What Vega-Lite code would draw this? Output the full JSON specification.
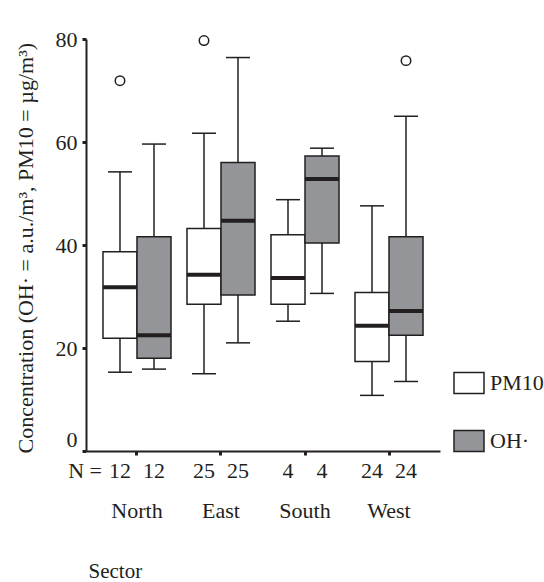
{
  "$schema": "https://vega.github.io/schema/vega-lite/v6.json",
  "width": 354,
  "height": 412,
  "autosize": {"type": "none"},
  "padding": {"left": 86, "top": 39, "right": 104, "bottom": 131},
  "background": "white",
  "config": {
    "font": "Liberation Serif",
    "view": {"stroke": null},
    "axis": {"grid": false, "labelFont": "Liberation Serif", "titleFont": "Liberation Serif"}
  },
  "datasets": {
    "boxes": [
      {"sector": "North", "series": "PM10", "n": "12", "lo": 15.3, "q1": 21.9, "med": 31.8, "q3": 38.7, "hi": 54.2},
      {"sector": "North", "series": "OH·", "n": "12", "lo": 15.9, "q1": 18.0, "med": 22.5, "q3": 41.6, "hi": 59.6},
      {"sector": "East", "series": "PM10", "n": "25", "lo": 15.0, "q1": 28.5, "med": 34.2, "q3": 43.2, "hi": 61.7},
      {"sector": "East", "series": "OH·", "n": "25", "lo": 21.0, "q1": 30.3, "med": 44.7, "q3": 56.0, "hi": 76.4},
      {"sector": "South", "series": "PM10", "n": "4", "lo": 25.2, "q1": 28.5, "med": 33.6, "q3": 42.0, "hi": 48.8},
      {"sector": "South", "series": "OH·", "n": "4", "lo": 30.6, "q1": 40.4, "med": 52.8, "q3": 57.3, "hi": 58.8},
      {"sector": "West", "series": "PM10", "n": "24", "lo": 10.8, "q1": 17.4, "med": 24.3, "q3": 30.8, "hi": 47.6},
      {"sector": "West", "series": "OH·", "n": "24", "lo": 13.5, "q1": 22.5, "med": 27.2, "q3": 41.6, "hi": 65.0}
    ],
    "outliers": [
      {"sector": "North", "series": "PM10", "value": 71.9},
      {"sector": "East", "series": "PM10", "value": 79.7},
      {"sector": "West", "series": "OH·", "value": 75.8}
    ]
  },
  "data": {"name": "boxes"},
  "encoding": {
    "x": {
      "field": "sector",
      "type": "nominal",
      "sort": ["North", "East", "South", "West"],
      "scale": {"paddingInner": 0, "paddingOuter": 0.107},
      "axis": {
        "title": "Sector",
        "titleFontSize": 21,
        "titleFontWeight": "normal",
        "titleColor": "#231f20",
        "titleAnchor": "start",
        "titleAlign": "left",
        "titleBaseline": "alphabetic",
        "titleX": 2,
        "titleY": 126,
        "labelAngle": 0,
        "labelFontSize": 22,
        "labelColor": "#231f20",
        "labelPadding": 45,
        "labelBaseline": "top",
        "domainColor": "#231f20",
        "domainWidth": 2,
        "tickColor": "#231f20",
        "tickSize": 4,
        "tickWidth": 3
      }
    },
    "xOffset": {
      "field": "series",
      "type": "nominal",
      "sort": ["PM10", "OH·"],
      "scale": {"paddingInner": 0, "paddingOuter": 0.235}
    }
  },
  "layer": [
    {
      "mark": {"type": "rule", "color": "#231f20", "strokeWidth": 1.5},
      "encoding": {
        "y": {
          "field": "lo",
          "type": "quantitative",
          "scale": {"domain": [0, 80], "nice": false},
          "axis": {
            "title": "Concentration (OH· = a.u./m³, PM10 = µg/m³)",
            "titleFontSize": 22,
            "titleFontWeight": "normal",
            "titleColor": "#231f20",
            "titleAngle": 270,
            "titleAlign": "left",
            "titleBaseline": "alphabetic",
            "titleX": -54,
            "titleY": 414,
            "values": [0, 20, 40, 60, 80],
            "labelFontSize": 22,
            "labelColor": "#231f20",
            "labelPadding": 5,
            "labelBaseline": {"condition": {"test": "datum.value == 0", "value": "bottom"}, "value": "middle"},
            "domainColor": "#231f20",
            "domainWidth": 2,
            "tickColor": "#231f20",
            "tickSize": 4,
            "tickWidth": 3
          }
        },
        "y2": {"field": "hi"}
      }
    },
    {
      "mark": {"type": "tick", "color": "#231f20", "size": 24, "thickness": 1.5, "opacity": 1},
      "encoding": {"y": {"field": "hi", "type": "quantitative"}}
    },
    {
      "mark": {"type": "tick", "color": "#231f20", "size": 24, "thickness": 1.5, "opacity": 1},
      "encoding": {"y": {"field": "lo", "type": "quantitative"}}
    },
    {
      "mark": {"type": "bar", "stroke": "#231f20", "strokeWidth": 1.5, "opacity": 1},
      "encoding": {
        "y": {"field": "q1", "type": "quantitative"},
        "y2": {"field": "q3"},
        "fill": {
          "field": "series",
          "type": "nominal",
          "sort": ["PM10", "OH·"],
          "scale": {"domain": ["PM10", "OH·"], "range": ["#ffffff", "#939598"]},
          "legend": {
            "title": null,
            "orient": "none",
            "legendX": 367,
            "legendY": 328,
            "padding": 0,
            "symbolType": "M-1,-0.7H1V0.7H-1Z",
            "symbolSize": 900,
            "symbolStrokeColor": "#231f20",
            "symbolStrokeWidth": 1.5,
            "symbolOpacity": 1,
            "labelFontSize": 22,
            "labelColor": "#231f20",
            "labelFont": "Liberation Serif",
            "labelOffset": 5,
            "rowPadding": 28
          }
        }
      }
    },
    {
      "mark": {"type": "tick", "color": "#231f20", "size": 34, "thickness": 4, "opacity": 1},
      "encoding": {"y": {"field": "med", "type": "quantitative"}}
    },
    {
      "data": {"name": "outliers"},
      "mark": {"type": "point", "shape": "circle", "filled": false, "size": 90, "color": "#231f20", "strokeWidth": 1.5, "opacity": 1},
      "encoding": {"y": {"field": "value", "type": "quantitative"}}
    },
    {
      "mark": {"type": "text", "fontSize": 22, "color": "#231f20", "baseline": "alphabetic", "dy": 27},
      "encoding": {
        "y": {"datum": 0, "type": "quantitative"},
        "text": {"field": "n"}
      }
    },
    {
      "transform": [{"filter": "datum.sector == 'North' && datum.series == 'PM10'"}],
      "mark": {"type": "text", "text": "N =", "fontSize": 22, "color": "#231f20", "baseline": "alphabetic", "align": "right", "dx": -18, "dy": 27},
      "encoding": {
        "y": {"datum": 0, "type": "quantitative"}
      }
    }
  ]
}
